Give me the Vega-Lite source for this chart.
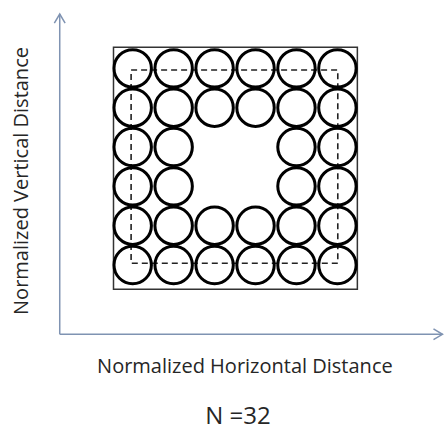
{
  "$schema": "https://vega.github.io/schema/vega-lite/v6.json",
  "width": 446,
  "height": 430,
  "autosize": {"type": "fit", "contains": "padding"},
  "padding": 0,
  "background": "white",
  "view": {"stroke": null},
  "datasets": {
    "circles": [
      {"col": 1, "row": 1}, {"col": 2, "row": 1}, {"col": 3, "row": 1}, {"col": 4, "row": 1}, {"col": 5, "row": 1}, {"col": 6, "row": 1},
      {"col": 1, "row": 2}, {"col": 2, "row": 2}, {"col": 3, "row": 2}, {"col": 4, "row": 2}, {"col": 5, "row": 2}, {"col": 6, "row": 2},
      {"col": 1, "row": 3}, {"col": 2, "row": 3}, {"col": 5, "row": 3}, {"col": 6, "row": 3},
      {"col": 1, "row": 4}, {"col": 2, "row": 4}, {"col": 5, "row": 4}, {"col": 6, "row": 4},
      {"col": 1, "row": 5}, {"col": 2, "row": 5}, {"col": 3, "row": 5}, {"col": 4, "row": 5}, {"col": 5, "row": 5}, {"col": 6, "row": 5},
      {"col": 1, "row": 6}, {"col": 2, "row": 6}, {"col": 3, "row": 6}, {"col": 4, "row": 6}, {"col": 5, "row": 6}, {"col": 6, "row": 6}
    ],
    "axes": [
      {"axis": "vertical", "x1": -0.782, "y1": -0.762, "x2": -0.782, "y2": 7.38},
      {"axis": "horizontal", "x1": -0.782, "y1": -0.762, "x2": 8.566, "y2": -0.762}
    ],
    "labels": [
      {"label": "Normalized Vertical Distance", "x": -1.706, "y": 3.136, "angle": 270, "size": 20},
      {"label": "Normalized Horizontal Distance", "x": 3.74, "y": -1.593, "angle": 0, "size": 20},
      {"label": "N =32", "x": 3.57, "y": -2.865, "angle": 0, "size": 24}
    ]
  },
  "layer": [
    {
      "data": {"values": [{"x1": 0.531, "x2": 6.487, "y1": 0.382, "y2": 6.535}]},
      "mark": {"type": "rect", "fill": null, "stroke": "#333333", "strokeWidth": 1.5},
      "encoding": {
        "x": {"field": "x1", "type": "quantitative", "scale": {"domain": [-2.241, 8.603], "nice": false, "zero": false}, "axis": null},
        "x2": {"field": "x2"},
        "y": {"field": "y1", "type": "quantitative", "scale": {"domain": [-3.195, 7.738], "nice": false, "zero": false}, "axis": null},
        "y2": {"field": "y2"}
      }
    },
    {
      "data": {"values": [{"x1": 0.961, "x2": 6.009, "y1": 1.043, "y2": 5.958}]},
      "mark": {"type": "rect", "fill": null, "stroke": "#222222", "strokeWidth": 1.6, "strokeDash": [6, 4]},
      "encoding": {
        "x": {"field": "x1", "type": "quantitative"},
        "x2": {"field": "x2"},
        "y": {"field": "y1", "type": "quantitative"},
        "y2": {"field": "y2"}
      }
    },
    {
      "data": {"name": "circles"},
      "mark": {"type": "point", "shape": "circle", "filled": false, "stroke": "#000000", "strokeWidth": 3, "size": 1400, "opacity": 1},
      "encoding": {
        "x": {"field": "col", "type": "quantitative"},
        "y": {"field": "row", "type": "quantitative"}
      }
    },
    {
      "data": {"name": "axes"},
      "mark": {"type": "rule", "stroke": "#7f93b2", "strokeWidth": 1.5},
      "encoding": {
        "x": {"field": "x1", "type": "quantitative"},
        "y": {"field": "y1", "type": "quantitative"},
        "x2": {"field": "x2"},
        "y2": {"field": "y2"}
      }
    },
    {
      "data": {"values": [{"x": -0.782, "y": 7.38}]},
      "mark": {"type": "point", "shape": "M-0.6,1L0,0L0.6,1", "filled": false, "stroke": "#7f93b2", "strokeWidth": 1.5, "size": 324, "opacity": 1},
      "encoding": {
        "x": {"field": "x", "type": "quantitative"},
        "y": {"field": "y", "type": "quantitative"}
      }
    },
    {
      "data": {"values": [{"x": 8.566, "y": -0.762}]},
      "mark": {"type": "point", "shape": "M-1,-0.6L0,0L-1,0.6", "filled": false, "stroke": "#7f93b2", "strokeWidth": 1.5, "size": 324, "opacity": 1},
      "encoding": {
        "x": {"field": "x", "type": "quantitative"},
        "y": {"field": "y", "type": "quantitative"}
      }
    },
    {
      "data": {"name": "labels"},
      "mark": {"type": "text", "font": "Open Sans", "color": "#262626", "align": "center", "baseline": "middle"},
      "encoding": {
        "x": {"field": "x", "type": "quantitative"},
        "y": {"field": "y", "type": "quantitative"},
        "text": {"field": "label"},
        "angle": {"field": "angle", "type": "quantitative", "scale": null},
        "size": {"field": "size", "type": "quantitative", "scale": null}
      }
    }
  ]
}
